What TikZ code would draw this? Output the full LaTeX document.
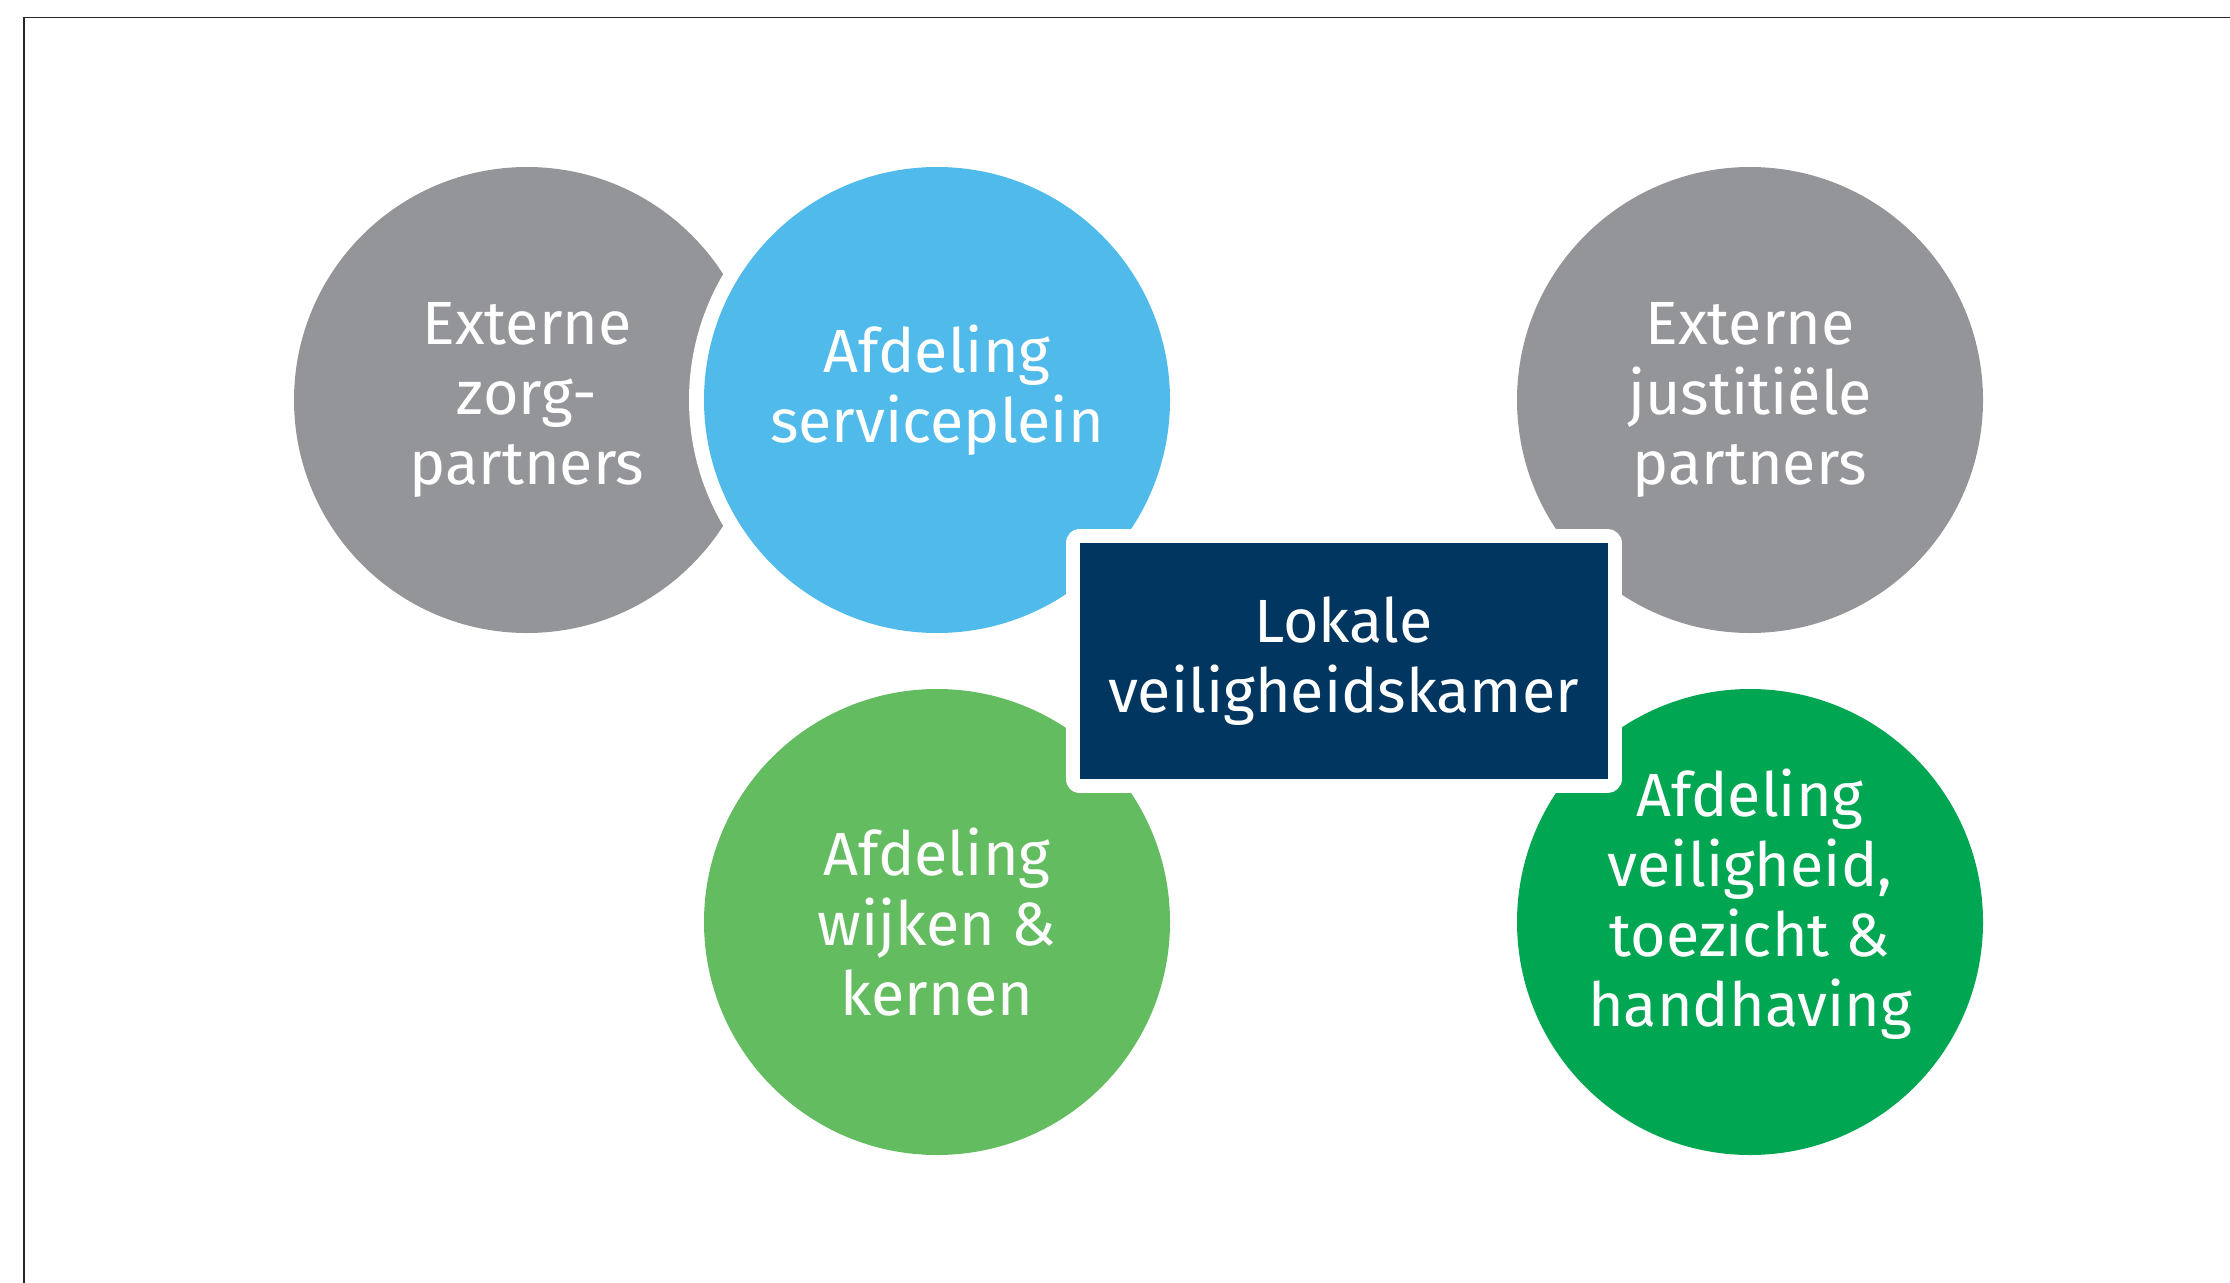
\documentclass[tikz,border=0pt]{standalone}
\usepackage{fontspec}
\setmainfont{Fira Sans}
\usetikzlibrary{calc}
\definecolor{grijs}{RGB}{148,149,153}
\definecolor{blauw}{RGB}{80,187,235}
\definecolor{navy}{RGB}{0,54,96}
\definecolor{lichtgroen}{RGB}{99,188,96}
\definecolor{donkergroen}{RGB}{0,166,81}
\tikzstyle{kring} = [circle, minimum size=233pt, inner sep=0pt, text=white, align=center, font=\fontsize{30.5}{35}\selectfont, node distance=205pt]
\tikzstyle{ext_partner} = [kring, fill=grijs]
\tikzstyle{afd_rand} = [kring, preaction={draw=white, line width=15pt}]
\tikzstyle{afd_plain} = [kring]
\tikzstyle{lvk_box} = [rectangle, fill=navy, preaction={draw=white, line width=14pt, line join=round}, minimum width=264pt, minimum height=118pt, inner sep=0pt, text=white, align=center, font=\fontsize{30.5}{35}\selectfont]
\tikzstyle{rand} = [draw=black!85, line width=0.75pt]

\begin{document}
\begin{tikzpicture}
		\useasboundingbox (0,0) rectangle (1115pt,-641.5pt);
		\coordinate (rand_lo) at (12pt,-641.5pt);
		\coordinate (rand_rb) at (1115pt,-8.75pt);
		\draw [rand] (rand_lo) |- (rand_rb);
		
		\node [ext_partner] (ext_zorg) at (263.5pt,-200pt) {Externe\\zorg-\\partners};
		\node [afd_rand, fill=blauw, text depth=16pt, right of=ext_zorg, node distance=205pt] (afd_service) {Afdeling\\serviceplein};
		\node [ext_partner, right of=afd_service, node distance=406.5pt] (ext_justitie) {Externe\\justitiële\\partners};
		
		\node [afd_plain, fill=lichtgroen, below of=afd_service, node distance=261pt] (afd_wijken) {Afdeling\\wijken \&\\kernen};
		\node [afd_plain, fill=donkergroen, text depth=24pt, below of=ext_justitie, node distance=261pt] (afd_vth) {Afdeling\\veiligheid,\\toezicht \&\\handhaving};
		
		\node [lvk_box] (lvk) at ($(afd_service)!0.5!(afd_vth)$) {Lokale\\veiligheidskamer};
		\end{tikzpicture}
\end{document}
